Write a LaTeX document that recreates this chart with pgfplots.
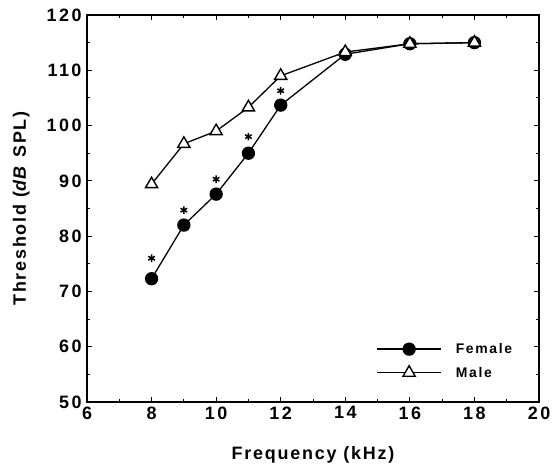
\documentclass[border=0pt]{standalone}
\usepackage{fontspec}
\setmainfont{Liberation Sans}
\usepackage{pgfplots}
\pgfplotsset{compat=1.18}

\begin{document}
\begin{tikzpicture}
\path[use as bounding box] (-87bp,-67bp) rectangle (465bp,402bp);
\begin{axis}[
  scale only axis, width=452bp, height=387bp,
  xmin=6, xmax=20, ymin=50, ymax=120,
  xtick={6,8,...,20}, ytick={50,60,...,120},
  minor x tick num=1, minor y tick num=1,
  tick align=inside,
  major tick length=5bp, minor tick length=3bp,
  axis line style={line width=1.6bp},
  every tick/.style={line width=1bp, black},
  tick label style={font=\bfseries\fontsize{18}{20}\selectfont\addfontfeature{LetterSpace=14}},
  /pgf/number format/assume math mode=true,
  xticklabel style={yshift=-1bp},
  yticklabel style={xshift=-2bp},
  label style={font=\bfseries\fontsize{18}{20}\selectfont\addfontfeature{LetterSpace=10}},
  xlabel={Frequency (kHz)},
  ylabel={Threshold (\textit{dB} SPL)},
  xlabel style={yshift=-20bp},
  ylabel style={yshift=10bp},
  legend style={at={(0.64,0.055)}, anchor=south west, draw=none, fill=none,
    font=\bfseries\fontsize{14}{16}\selectfont\addfontfeature{LetterSpace=12},
    inner sep=0pt, row sep=8bp,
    legend cell align=left, nodes={inner xsep=14bp}},
  legend image code/.code={%
    \draw[mark repeat=2,mark phase=2] plot coordinates {(0bp,0bp) (32bp,0bp) (64bp,0bp)};},
]
\addplot[black, line width=1.3bp, mark=*, mark size=6bp,
  mark options={solid, fill=black}] coordinates {
 (8,72.3) (9,82.0) (10,87.6) (11,95.0) (12,103.7) (14,112.9) (16,114.8) (18,115.0)};
\addlegendentry{Female}
\addplot[black, line width=1.3bp, mark=triangle*, mark size=7bp,
  mark options={solid, fill=white, line width=1.4bp}] coordinates {
 (8,89.4) (9,96.7) (10,99.0) (11,103.3) (12,109.0) (14,113.3) (16,114.8) (18,115.0)};
\addlegendentry{Male}
\addplot[only marks, black, mark=asterisk, mark size=3.8bp, line width=1.5bp,
  forget plot] coordinates {
 (8,76.0) (9,84.7) (10,90.3) (11,98.0) (12,106.3)};
\end{axis}
\end{tikzpicture}
\end{document}
